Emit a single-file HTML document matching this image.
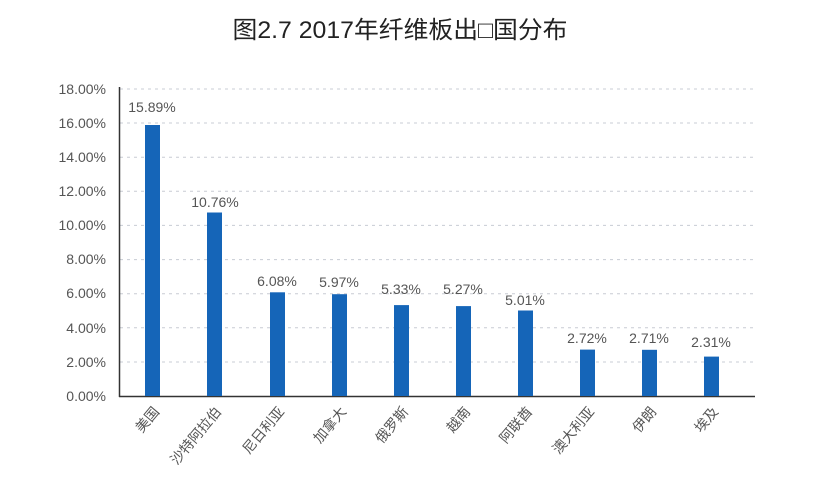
<!DOCTYPE html>
<html><head><meta charset="utf-8"><style>
body{margin:0;background:#fff;}
svg{display:block;font-family:"Liberation Sans","Noto Sans CJK SC",sans-serif;}
</style></head><body>
<svg width="816" height="496" viewBox="0 0 816 496">
<rect width="816" height="496" fill="#fff"/>
<text x="400" y="38" text-anchor="middle" font-size="24" fill="#222" textLength="335" lengthAdjust="spacingAndGlyphs">图2.7 2017年纤维板出□国分布</text>
<g stroke="#c8ccd4" stroke-dasharray="3,4" stroke-width="1">
<line x1="120" x2="755" y1="89" y2="89"/><line x1="120" x2="755" y1="123" y2="123"/>
<line x1="120" x2="755" y1="157.2" y2="157.2"/><line x1="120" x2="755" y1="191.3" y2="191.3"/>
<line x1="120" x2="755" y1="225.4" y2="225.4"/><line x1="120" x2="755" y1="259.6" y2="259.6"/>
<line x1="120" x2="755" y1="293.7" y2="293.7"/><line x1="120" x2="755" y1="327.8" y2="327.8"/>
<line x1="120" x2="755" y1="362" y2="362"/>
</g>
<g font-size="14" fill="#555" text-anchor="end">
<text x="106" y="94">18.00%</text><text x="106" y="128">16.00%</text><text x="106" y="162">14.00%</text>
<text x="106" y="196">12.00%</text><text x="106" y="230">10.00%</text><text x="106" y="264">8.00%</text>
<text x="106" y="298">6.00%</text><text x="106" y="333">4.00%</text><text x="106" y="367">2.00%</text>
<text x="106" y="401">0.00%</text>
</g>
<line x1="119.5" y1="87" x2="119.5" y2="397" stroke="#333" stroke-width="1.5"/>
<line x1="119" y1="396.5" x2="755" y2="396.5" stroke="#333" stroke-width="1.5"/>
<g fill="#1565b8">
<rect x="145" y="125" width="15" height="271"/>
<rect x="207" y="212.5" width="15" height="183.5"/>
<rect x="270" y="292.3" width="15" height="103.7"/>
<rect x="332" y="294.2" width="15" height="101.8"/>
<rect x="394" y="305.1" width="15" height="90.9"/>
<rect x="456" y="306.1" width="15" height="89.9"/>
<rect x="518" y="310.5" width="15" height="85.5"/>
<rect x="580" y="349.6" width="15" height="46.4"/>
<rect x="642" y="349.8" width="15" height="46.2"/>
<rect x="704" y="356.6" width="15" height="39.4"/>
</g>
<g font-size="14" fill="#555" text-anchor="middle">
<text x="152" y="112">15.89%</text><text x="215" y="207">10.76%</text>
<text x="277" y="286">6.08%</text><text x="339" y="287">5.97%</text>
<text x="401" y="294">5.33%</text><text x="463" y="294">5.27%</text>
<text x="525" y="305">5.01%</text><text x="587" y="343">2.72%</text>
<text x="649" y="343">2.71%</text><text x="711" y="347">2.31%</text>
</g>
<g font-size="14" fill="#555" text-anchor="end">
<text transform="translate(160,412) rotate(-50)">美国</text>
<text transform="translate(222,412) rotate(-50)">沙特阿拉伯</text>
<text transform="translate(285,412) rotate(-50)">尼日利亚</text>
<text transform="translate(347,412) rotate(-50)">加拿大</text>
<text transform="translate(409,412) rotate(-50)">俄罗斯</text>
<text transform="translate(471,412) rotate(-50)">越南</text>
<text transform="translate(533,412) rotate(-50)">阿联酋</text>
<text transform="translate(595,412) rotate(-50)">澳大利亚</text>
<text transform="translate(657,412) rotate(-50)">伊朗</text>
<text transform="translate(719,412) rotate(-50)">埃及</text>
</g>
</svg>
</body></html>
